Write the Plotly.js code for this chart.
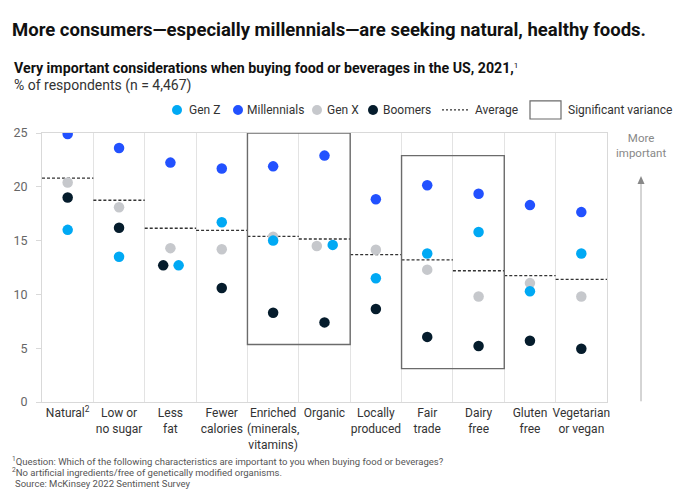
<!DOCTYPE html>
<html><head><meta charset="utf-8">
<script src="https://cdn.plot.ly/plotly-3.0.1.min.js"></script>
<style>html,body{margin:0;padding:0;background:#fff} #chart{width:700px;height:491px}</style>
</head><body><div id="chart"></div>
<script>
// ---- Data ----
const categories = ["Natural<sup>2</sup>", "Low or<br>no sugar", "Less<br>fat", "Fewer<br>calories",
  "Enriched<br>(minerals,<br>vitamins)", "Organic", "Locally<br>produced", "Fair<br>trade",
  "Dairy<br>free", "Gluten<br>free", "Vegetarian<br>or vegan"];
const genZ        = [16.0, 13.5, 12.7, 16.7, 15.0, 14.6, 11.5, 13.8, 15.8, 10.3, 13.8];
const millennials = [24.9, 23.6, 22.25, 21.7, 21.9, 22.9, 18.85, 20.15, 19.35, 18.3, 17.65];
const genX        = [20.4, 18.1, 14.3, 14.2, 15.35, 14.5, 14.15, 12.3, 9.8, 11.05, 9.8];
const boomers     = [19.0, 16.2, 12.7, 10.6, 8.3, 7.4, 8.65, 6.05, 5.2, 5.7, 4.95];
const average     = [20.8, 18.75, 16.15, 15.95, 15.4, 15.15, 13.7, 13.2, 12.2, 11.75, 11.4];
// significant-variance groups: first/last category index, low/high value
const varianceFirst = [4, 7];
const varianceLast  = [5, 8];
const varianceLow   = [5.35, 3.1];
const varianceHigh  = [25, 22.9];
const yTicks = [0, 5, 10, 15, 20, 25];

// ---- Style ----
const FONT = "Roboto, 'Liberation Sans', sans-serif";
const C = {genZ: "#00A9F4", mill: "#2251FF", genX: "#C6C8CC", boom: "#051C2C"};
const MS = 10.5;
// small horizontal dodge where points of one category overlap
const dodge = {2: {boom: -0.14, genZ: 0.16}, 5: {genX: -0.15, genZ: 0.16}};
const idx = categories.map((_, i) => i);
const xs = key => idx.map(i => i + ((dodge[i] && dodge[i][key]) || 0));

function dots(name, vals, key, color) {
  return {type: "scatter", mode: "markers", name, x: xs(key), y: vals,
    marker: {size: MS, color: color, line: {width: 0}}, hoverinfo: "name+y", showlegend: false};
}
const avgX = [], avgY = [];
average.forEach((v, i) => { avgX.push(i - 0.5, i + 0.5, null); avgY.push(v, v, null); });

const traces = [
  {type: "scatter", mode: "lines", name: "Average", x: avgX, y: avgY,
   line: {color: "#333", width: 1.3, dash: "3px,2px"}, hoverinfo: "skip", showlegend: false},
  dots("Gen X", genX, "genX", C.genX),
  dots("Boomers", boomers, "boom", C.boom),
  dots("Millennials", millennials, "mill", C.mill),
  dots("Gen Z", genZ, "genZ", C.genZ)
];

// plot area in pixels
const L = 42, R = 607, T = 133, B = 401.7;
const px = x => (x - L) / (R - L);
const py = y => (B - y) / (B - T);

const shapes = varianceFirst.map((f, k) => ({type: "rect", xref: "x", yref: "y",
  x0: f - 0.5, x1: varianceLast[k] + 0.5, y0: varianceLow[k], y1: varianceHigh[k],
  line: {color: "#6b6b6b", width: 1.4}, fillcolor: "rgba(0,0,0,0)", layer: "above"}));

// legend (custom)
const legY = py(110);
const legDots = [[177, C.genZ], [238, C.mill], [317, C.genX], [373, C.boom]];
legDots.forEach(([x, c]) => shapes.push({type: "circle", xref: "paper", yref: "paper",
  xsizemode: "pixel", ysizemode: "pixel", xanchor: px(x), yanchor: legY,
  x0: -5, x1: 5, y0: -5, y1: 5, fillcolor: c, line: {width: 0}}));
shapes.push({type: "line", xref: "paper", yref: "paper", x0: px(442), x1: px(469), y0: legY, y1: legY,
  line: {color: "#333", width: 1.2, dash: "2px,2px"}});
shapes.push({type: "rect", xref: "paper", yref: "paper", x0: px(530), x1: px(561), y0: py(101), y1: py(119),
  line: {color: "#6b6b6b", width: 1.2}});
// "more important" arrow
shapes.push({type: "line", xref: "paper", yref: "paper", x0: px(641), x1: px(641), y0: py(401), y1: py(182),
  line: {color: "#aaa", width: 1}});
shapes.push({type: "path", xref: "paper", yref: "paper", xsizemode: "pixel", ysizemode: "pixel",
  xanchor: px(641), yanchor: py(176), path: "M -3.5 -8 L 3.5 -8 L 0 0 Z", fillcolor: "#888", line: {width: 0}});

const ann = (text, x, y, opts) => Object.assign({text, xref: "paper", yref: "paper", x: px(x), y: py(y),
  showarrow: false, xanchor: "left", yanchor: "middle", font: {family: FONT, size: 12, color: "#333"}}, opts || {});

const annotations = [
  ann("<b>Very important considerations when buying food or beverages in the US, 2021,</b><span style='font-size:11.5px'><sup>1</sup></span>", 12, 68,
      {font: {family: FONT, size: 14.2, color: "#111"}}),
  ann("% of respondents (n = 4,467)", 12, 86, {font: {family: FONT, size: 14, color: "#333"}}),
  ann("Gen Z", 187, 110), ann("Millennials", 245, 110), ann("Gen X", 325, 110),
  ann("Boomers", 381, 110), ann("Average", 473, 110), ann("Significant variance", 566, 110),
  ann("More<br>important", 641, 145, {xanchor: "center", font: {family: FONT, size: 11.5, color: "#888"}}),
  ann("<sup>1</sup>Question: Which of the following characteristics are important to you when buying food or beverages?",
      10, 461, {font: {family: FONT, size: 9.5, color: "#555"}}),
  ann("<sup>2</sup>No artificial ingredients/free of genetically modified organisms.", 10, 472,
      {font: {family: FONT, size: 9.5, color: "#555"}}),
  ann("Source: McKinsey 2022 Sentiment Survey", 13, 483, {font: {family: FONT, size: 9.5, color: "#555"}})
];

const layout = {
  width: 700, height: 491, paper_bgcolor: "#fff", plot_bgcolor: "#fff",
  margin: {l: L, r: 700 - R, t: T, b: 491 - B, pad: 0},
  font: {family: FONT, color: "#333"},
  title: {text: "<b>More consumers—especially millennials—are seeking natural, healthy foods.</b>",
    xref: "container", yref: "container", x: 12 / 700, xanchor: "left", y: 1 - 30 / 491, yanchor: "middle",
    font: {family: FONT, size: 18.5, color: "#111"}},
  xaxis: {range: [-0.5, 10.5], tickmode: "array", tickvals: idx, ticktext: categories,
    showgrid: false, zeroline: false, showline: true, mirror: true, linecolor: "#d9d9d9", linewidth: 1,
    ticks: "", tickfont: {family: FONT, size: 12, color: "#333"}, fixedrange: true,
    minor: {tick0: -0.5, dtick: 1, showgrid: true, gridcolor: "#e3e3e3", gridwidth: 1, ticks: ""}},
  yaxis: {range: [0, 25], tickmode: "array", tickvals: yTicks, showgrid: false, zeroline: false,
    showline: true, mirror: true, linecolor: "#d9d9d9", ticks: "outside", ticklen: 5, tickcolor: "#d9d9d9",
    ticklabelstandoff: 6, tickfont: {family: FONT, size: 12.5, color: "#666"}, fixedrange: true},
  shapes, annotations, showlegend: false
};

Plotly.newPlot("chart", traces, layout, {displayModeBar: false, responsive: false});
</script></body></html>
